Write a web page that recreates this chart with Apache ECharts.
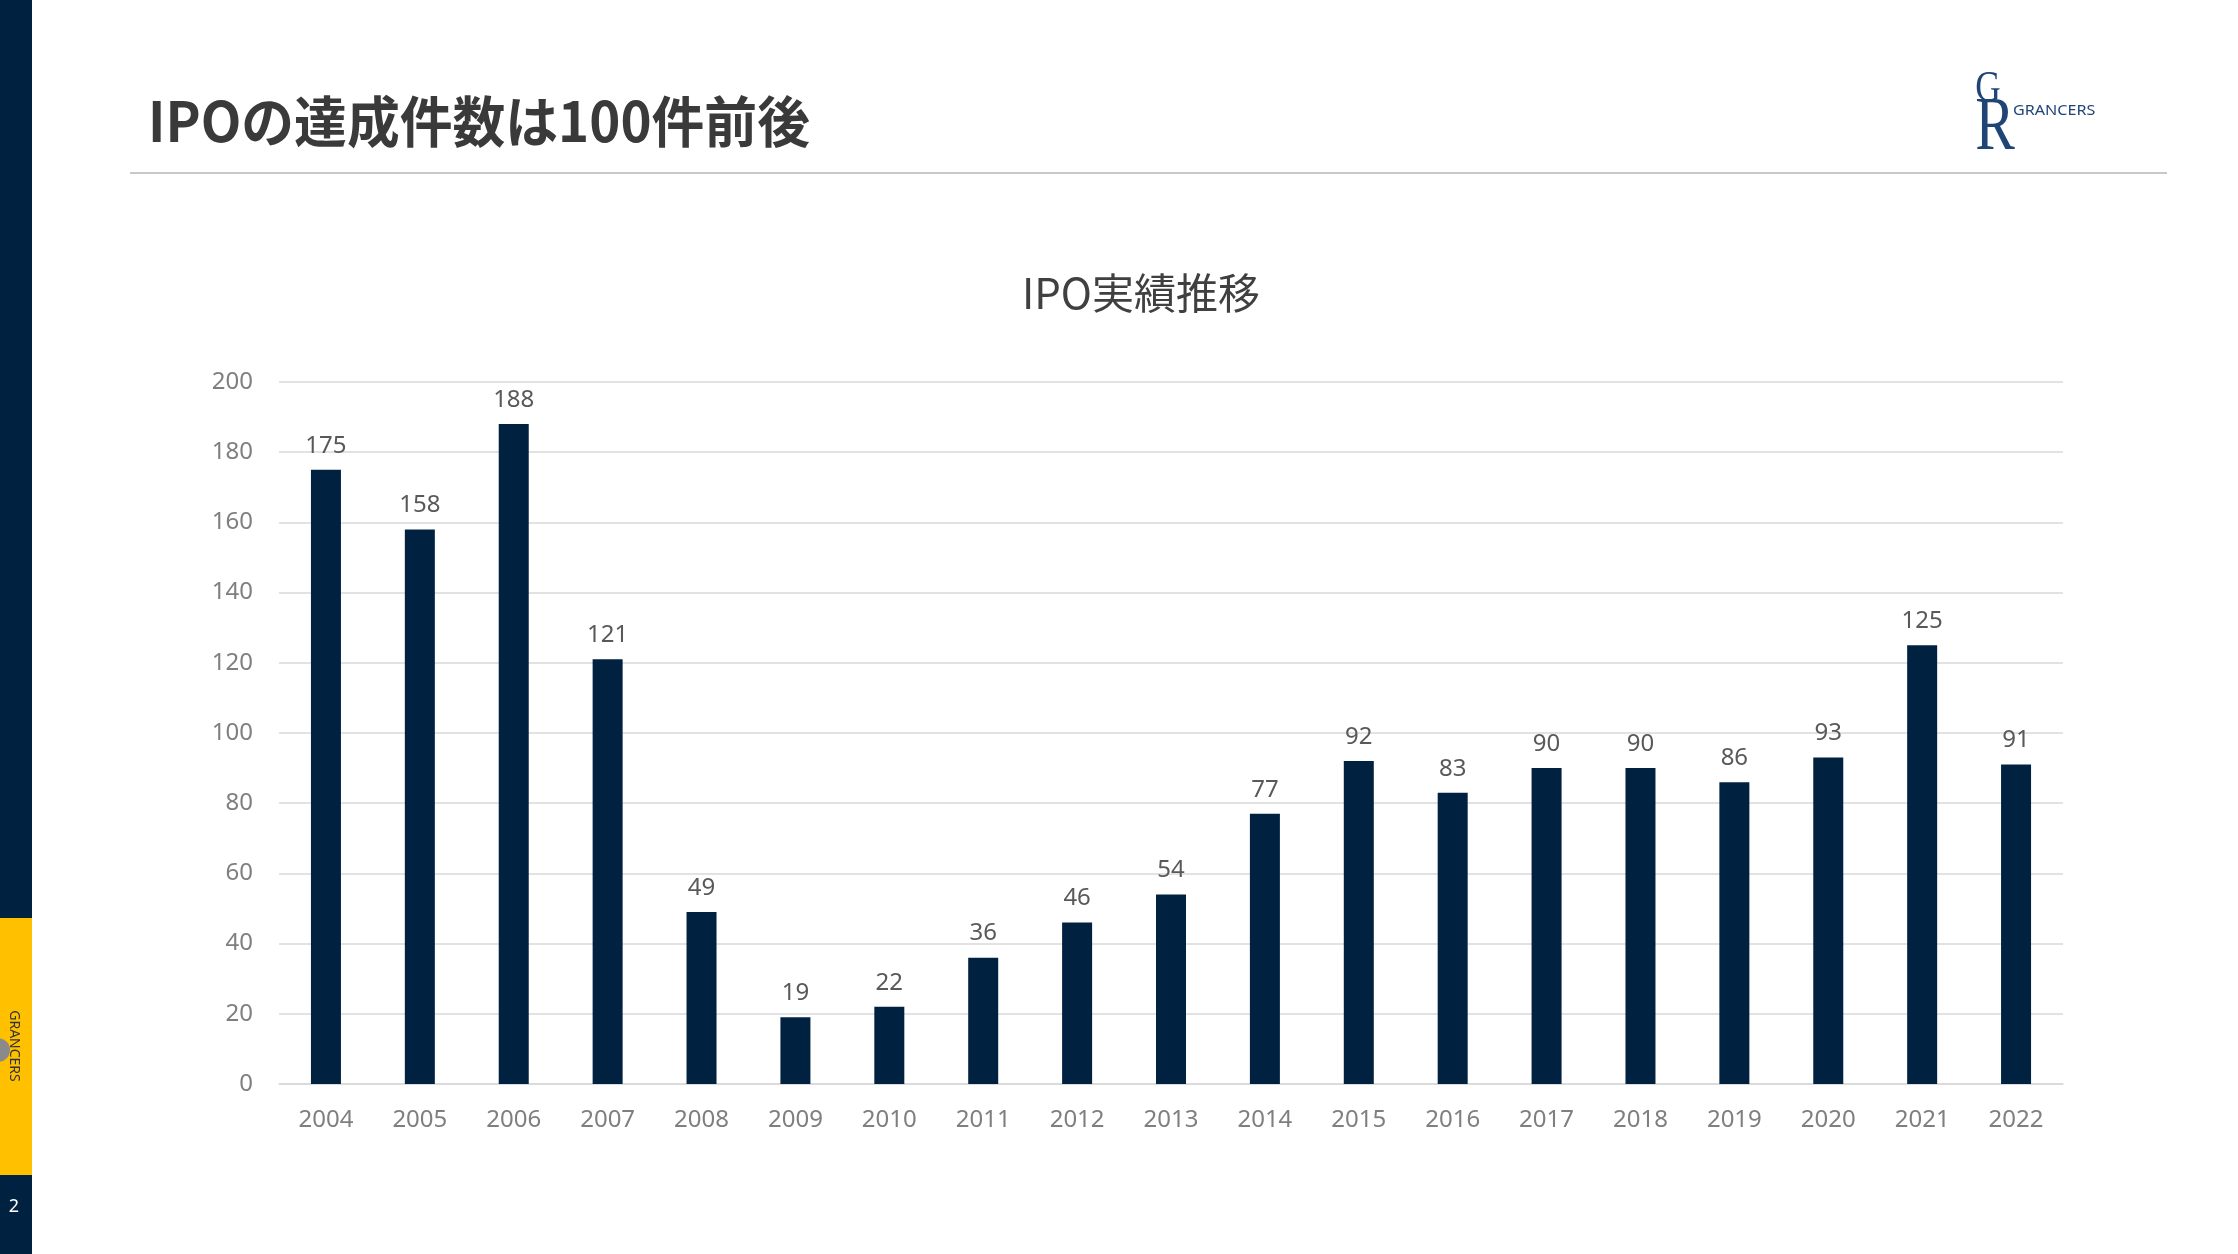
<!DOCTYPE html>
<html>
<head>
<meta charset="utf-8">
<title>IPO実績推移</title>
<script src="https://cdn.jsdelivr.net/npm/echarts@6/dist/echarts.min.js"></script>
<style>
  html, body { margin: 0; padding: 0; background: #fff; }
  #chart { width: 2238px; height: 1254px; }
</style>
</head>
<body>
<div id="chart"></div>
<script>
// data
const years = ['2004', '2005', '2006', '2007', '2008', '2009', '2010', '2011', '2012', '2013',
  '2014', '2015', '2016', '2017', '2018', '2019', '2020', '2021', '2022'];
const ipoCounts = [175, 158, 188, 121, 49, 19, 22, 36, 46, 54, 77, 92, 83, 90, 90, 86, 93, 125, 91];
const yMin = 0;
const yMax = 200;
const yStep = 20;

const pageTitle = 'IPOの達成件数は100件前後';
const chartTitle = 'IPO実績推移';
const brand = 'GRANCERS';
const pageNo = '2';

const navy = '#002240';
const gold = '#ffc000';
const logoBlue = '#1f4577';
const labelGrey = '#7f7f7f';

var myChart = echarts.init(document.getElementById('chart'));

var option = {
  animation: false,
  backgroundColor: '#fff',
  textStyle: { fontFamily: '"Noto Sans", "Noto Sans CJK JP", sans-serif' },
  grid: {
    left: 279,
    right: 175,
    top: 382,
    bottom: 170,
    containLabel: false
  },
  xAxis: {
    type: 'category',
    data: years,
    axisLine: { show: true, lineStyle: { color: '#d9d9d9', width: 1.5 } },
    axisTick: { show: false },
    axisLabel: {
      color: labelGrey,
      fontSize: 24,
      margin: 24
    }
  },
  yAxis: {
    type: 'value',
    min: yMin,
    max: yMax,
    interval: yStep,
    axisLine: { show: false },
    axisTick: { show: false },
    axisLabel: {
      color: labelGrey,
      fontSize: 24,
      margin: 26
    },
    splitLine: { lineStyle: { color: '#d9d9d9', width: 1.5 } }
  },
  series: [
    {
      name: 'IPO',
      type: 'bar',
      data: ipoCounts,
      barWidth: 30,
      itemStyle: { color: navy },
      label: {
        show: true,
        position: 'top',
        distance: 12,
        color: '#595959',
        fontSize: 24
      }
    }
  ],
  graphic: [
    // left side strip
    { type: 'rect', left: 0, top: 0, shape: { width: 32, height: 918 }, style: { fill: navy } },
    { type: 'rect', left: 0, top: 918, shape: { width: 32, height: 257 }, style: { fill: gold } },
    { type: 'rect', left: 0, top: 1175, shape: { width: 32, height: 79 }, style: { fill: navy } },
    { type: 'circle', shape: { cx: -2, cy: 1050, r: 12 }, style: { fill: '#8a8a8a' } },
    {
      type: 'text', x: 14, y: 1046, rotation: -Math.PI / 2,
      style: {
        text: brand, fill: '#333', fontSize: 14,
        fontFamily: '"Noto Sans", sans-serif',
        align: 'center', verticalAlign: 'middle'
      }
    },
    {
      type: 'text', x: 14, y: 1207,
      style: {
        text: pageNo, fill: '#fff', fontSize: 18,
        fontFamily: '"Noto Sans", sans-serif',
        align: 'center', verticalAlign: 'middle'
      }
    },
    // page heading
    {
      type: 'text', x: 148, y: 121, scaleX: 0.96,
      style: {
        text: pageTitle, fill: '#3a3a3a', fontSize: 55, fontWeight: 'bold',
        fontFamily: '"Noto Sans CJK JP", sans-serif',
        align: 'left', verticalAlign: 'middle'
      }
    },
    { type: 'rect', left: 130, top: 172, shape: { width: 2037, height: 2 }, style: { fill: '#c8c8c8' } },
    // logo
    {
      type: 'text', x: 1988, y: 89, scaleX: 0.8,
      style: {
        text: 'G', fill: logoBlue, fontSize: 44,
        fontFamily: '"Liberation Serif", "DejaVu Serif", serif',
        align: 'center', verticalAlign: 'middle'
      }
    },
    {
      type: 'text', x: 1995, y: 129, scaleX: 0.78,
      style: {
        text: 'R', fill: logoBlue, fontSize: 76,
        fontFamily: '"Liberation Serif", "DejaVu Serif", serif',
        align: 'center', verticalAlign: 'middle'
      }
    },
    {
      type: 'text', x: 2013, y: 111, scaleX: 1.15,
      style: {
        text: brand, fill: logoBlue, fontSize: 14,
        fontFamily: '"Noto Sans", sans-serif',
        align: 'left', verticalAlign: 'middle'
      }
    },
    // chart title
    {
      type: 'text', x: 1141, y: 293,
      style: {
        text: chartTitle, fill: '#404040', fontSize: 42,
        fontFamily: '"Noto Sans CJK JP", sans-serif',
        align: 'center', verticalAlign: 'middle'
      }
    }
  ]
};

myChart.setOption(option);

window.addEventListener('resize', function () {
  myChart.resize();
});
</script>
</body>
</html>
